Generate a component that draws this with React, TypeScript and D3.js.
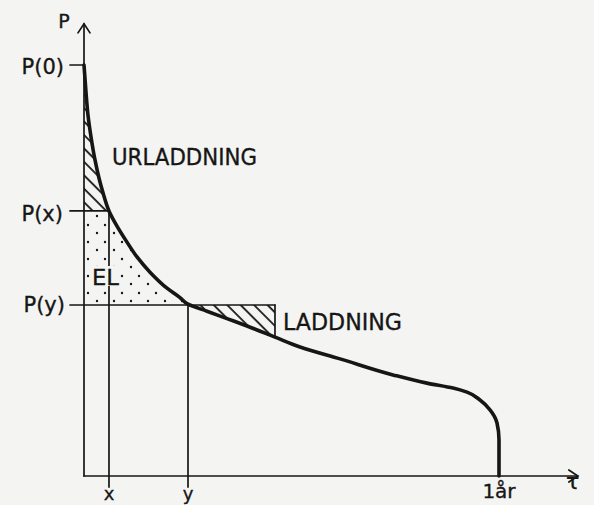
import React from "react";
import * as d3 from "d3";

// Load-duration curve: t (fraction of a year) vs P (relative to P(0))
const curveT = [0, 0.0048, 0.0096, 0.0169, 0.0265, 0.0361, 0.0458, 0.0602, 0.0795, 0.1036, 0.1277, 0.159, 0.2, 0.2313, 0.2506, 0.2964, 0.3446, 0.3928, 0.4602, 0.5205, 0.6169, 0.7446, 0.8265, 0.8892, 0.9229, 0.9542, 0.9783, 0.9952, 1.0, 1.0];
const curveP = [1.0, 0.934, 0.878, 0.825, 0.769, 0.725, 0.689, 0.645, 0.608, 0.569, 0.533, 0.496, 0.457, 0.434, 0.418, 0.401, 0.383, 0.365, 0.338, 0.314, 0.285, 0.246, 0.226, 0.214, 0.204, 0.185, 0.161, 0.129, 0.088, 0.0];

const levelLabels = ["P(0)", "P(x)", "P(y)"];
const levelP = [1.0, 0.645, 0.416];
const timeLabels = ["x", "y"];
const timeT = [0.0602, 0.2506];
const chargeEnd = [0.4602, 0.338]; // [t, P] where the charging box meets the curve
const yearLabel = ["1år"];
const axisLabels = ["P", "τ"];
const regionLabels = ["URLADDNING", "EL", "LADDNING"];

const W = 594;
const H = 505;
const BG = "#f4f4f2";
const INK = "#161616";
const FONT = "'DejaVu Sans', sans-serif";

export default function App() {
  const x = d3.scaleLinear().domain([0, 1]).range([84, 499]);
  const y = d3.scaleLinear().domain([0, 1]).range([476, 65]);

  const pts: [number, number][] = curveT.map((t, i) => [t, curveP[i]]);
  const line = d3
    .line<[number, number]>()
    .x((d) => x(d[0]))
    .y((d) => y(d[1]))
    .curve(d3.curveMonotoneY);
  const curvePath = line(pts) || "";

  const under = `${curvePath} L${x(0)},${y(0)} Z`;
  const above = `${curvePath} L${x(1.3)},${y(0)} L${x(1.3)},${y(1.2)} L${x(0)},${y(1.2)} Z`;

  const [Px, Py] = [levelP[1], levelP[2]];
  const [tx, ty] = timeT;
  const [tL, PL] = chargeEnd;
  const xTick0 = 70;
  const axisX0 = x(0);
  const axisTopY = y(1.1);
  const axisRight = x(1.19);
  const belowY = y(-0.027);

  const rUrl = { x: x(0), y: y(1.0), w: x(tx + 0.02) - x(0), h: y(Px) - y(1.0) };
  const rEl = { x: x(0), y: y(Px), w: x(ty + 0.02) - x(0), h: y(Py) - y(Px) };
  const rLad = { x: x(ty), y: y(Py), w: x(tL) - x(ty), h: y(PL - 0.03) - y(Py) };

  return (
    <svg
      width={W}
      height={H}
      style={{ position: "absolute", left: 0, top: 0, background: BG }}
      fontFamily={FONT}
    >
      <defs>
        <pattern id="hatch" patternUnits="userSpaceOnUse" width={9.5} height={9.5} patternTransform="rotate(-45)">
          <line x1={2} y1={-1} x2={2} y2={11} stroke={INK} strokeWidth={1.8} />
        </pattern>
        <pattern id="dots" patternUnits="userSpaceOnUse" width={17} height={17}>
          <circle cx={3} cy={4} r={1.2} fill={INK} />
          <circle cx={12} cy={12} r={1.2} fill={INK} />
        </pattern>
        <clipPath id="underClip">
          <path d={under} />
        </clipPath>
        <clipPath id="aboveClip">
          <path d={above} />
        </clipPath>
      </defs>
      <rect x={0} y={0} width={W} height={H} fill={BG} />

      {/* shaded regions */}
      <g clipPath="url(#underClip)">
        <rect x={rUrl.x} y={rUrl.y} width={rUrl.w} height={rUrl.h} fill="url(#hatch)" />
        <rect x={rEl.x} y={rEl.y} width={rEl.w} height={rEl.h} fill="url(#dots)" />
      </g>
      <g clipPath="url(#aboveClip)">
        <rect x={rLad.x} y={rLad.y} width={rLad.w} height={rLad.h} fill="url(#hatch)" />
      </g>

      {/* axes */}
      <g stroke={INK} strokeWidth={1.7} fill="none" strokeLinecap="round">
        <line x1={axisX0} y1={y(0)} x2={axisX0} y2={axisTopY} />
        <polyline points={`${axisX0 - 6},${axisTopY + 9} ${axisX0},${axisTopY} ${axisX0 + 6},${axisTopY + 9}`} />
        <line x1={axisX0} y1={y(0)} x2={axisRight} y2={y(0)} />
        <polyline points={`${axisRight - 9},${y(0) - 6} ${axisRight},${y(0)} ${axisRight - 9},${y(0) + 6}`} />

        <line x1={xTick0} y1={y(levelP[0])} x2={axisX0} y2={y(levelP[0])} />
        <line x1={xTick0} y1={y(Px)} x2={x(tx)} y2={y(Px)} />
        <line x1={xTick0} y1={y(Py)} x2={x(tL)} y2={y(Py)} />

        <line x1={x(tx)} y1={y(Px)} x2={x(tx)} y2={belowY} />
        <line x1={x(ty)} y1={y(Py)} x2={x(ty)} y2={belowY} />
        <line x1={x(tL)} y1={y(Py)} x2={x(tL)} y2={y(PL)} />
      </g>

      {/* load duration curve */}
      <path d={curvePath} fill="none" stroke={INK} strokeWidth={3.6} strokeLinejoin="round" strokeLinecap="round" />

      {/* texts */}
      <rect x={92} y={266} width={27} height={20} fill={BG} />
      <g fill={INK} fontSize={21} stroke={INK} strokeWidth={0.35}>
        <text x={64} y={74} textAnchor="end">{levelLabels[0]}</text>
        <text x={63} y={221} textAnchor="end">{levelLabels[1]}</text>
        <text x={65} y={312} textAnchor="end">{levelLabels[2]}</text>
        <text x={64} y={28} textAnchor="middle" fontSize={19}>{axisLabels[0]}</text>
        <text x={566} y={489} fontSize={22}>{axisLabels[1]}</text>
        <text x={x(tx)} y={500} textAnchor="middle" fontSize={18}>{timeLabels[0]}</text>
        <text x={x(ty)} y={500} textAnchor="middle" fontSize={18}>{timeLabels[1]}</text>
        <text x={x(1)} y={498} textAnchor="middle" fontSize={20}>{yearLabel[0]}</text>
        <text x={112} y={165} fontSize={23} textLength={145} lengthAdjust="spacingAndGlyphs">{regionLabels[0]}</text>
        <text x={92} y={285} fontSize={22} textLength={27} lengthAdjust="spacingAndGlyphs">{regionLabels[1]}</text>
        <text x={283} y={330} fontSize={23} textLength={119} lengthAdjust="spacingAndGlyphs">{regionLabels[2]}</text>
      </g>
    </svg>
  );
}
